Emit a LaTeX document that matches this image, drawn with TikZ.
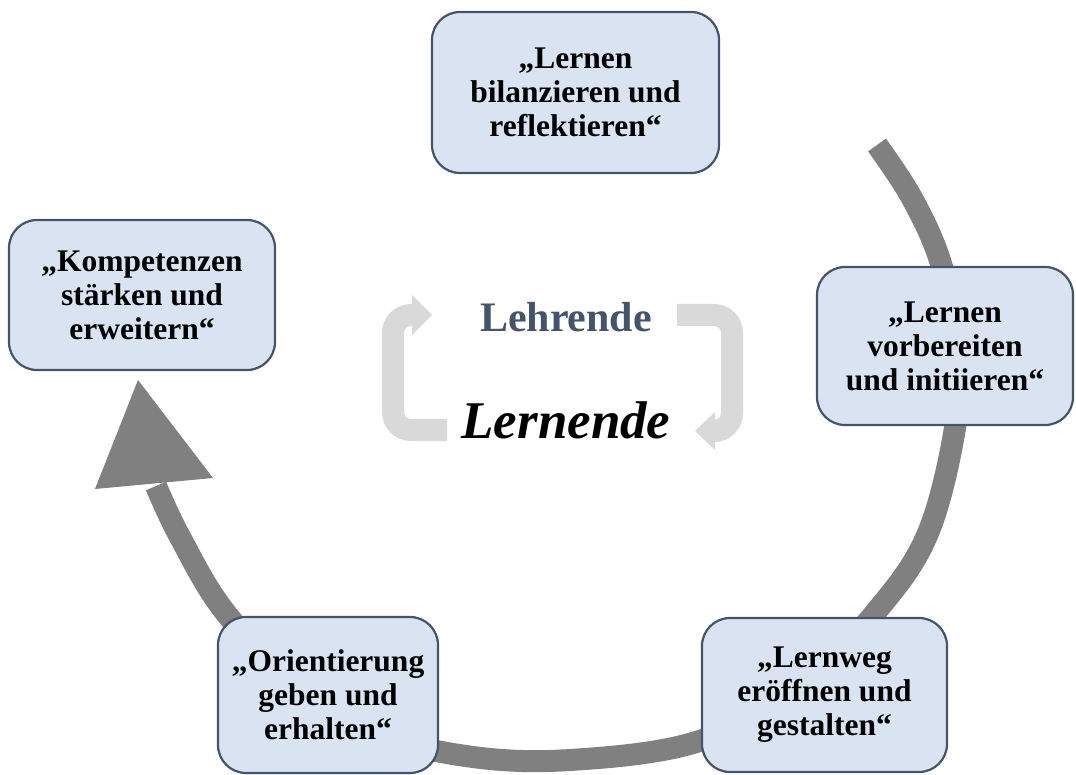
\documentclass[tikz,border=0pt]{standalone}
\usepackage{fontspec}
\setmainfont{Liberation Serif}
\definecolor{boxfill}{RGB}{218,227,242}
\definecolor{boxline}{RGB}{68,84,106}
\definecolor{cyclegray}{RGB}{128,128,128}
\definecolor{softgray}{RGB}{217,217,217}
\begin{document}
\begin{tikzpicture}[x=1pt,y=-1pt,
  phase/.style={draw=boxline, line width=2.2pt, fill=boxfill,
    rounded corners=28pt, align=center, inner sep=0pt,
    font=\bfseries\fontsize{31.5}{34}\selectfont},
  bigcycle/.style={cyclegray, line width=22pt},
  smallcycle/.style={softgray, line width=22pt, rounded corners=18pt}]
\useasboundingbox (0,0) rectangle (1076,775);

% large clockwise cycle arrow behind the phase boxes
\coordinate (arcstart) at (877,145);
\coordinate (arcend) at (156,486);
\draw[bigcycle] plot[smooth, tension=0.6] coordinates {
  (arcstart) (913,200) (942,267) (962,365) (933,520) (875,613)
  (790,695) (693,743) (570,760) (473,757) (380,735) (300,690)
  (225,612) (180,537) (arcend)};
\coordinate (headtip) at (138,380);
\fill[cyclegray] (95,489) -- (headtip) -- (213,478) -- cycle;

% small cycle between teachers and learners
\draw[smallcycle] (447,430) -- (393,430) -- (393,315) -- (418,315);
\fill[softgray] (412,295) -- (432,315) -- (412,335) -- cycle;
\draw[smallcycle] (677,315) -- (732,315) -- (732,431) -- (709,431);
\fill[softgray] (715,412) -- (695,431) -- (715,450) -- cycle;

\node[anchor=base, text=boxline, font=\bfseries\fontsize{42}{42}\selectfont]
  (lehrende) at (566,332) {Lehrende};
\node[anchor=base, font=\bfseries\itshape\fontsize{53}{53}\selectfont]
  (lernende) at (566,438) {Lernende};

% phases
\node[phase, minimum width=287pt, minimum height=161pt] (bilanz) at (575.5,92.5)
  {„Lernen\\bilanzieren und\\reflektieren“};
\node[phase, minimum width=256pt, minimum height=158pt] (vorb) at (945,346)
  {„Lernen\\vorbereiten\\und initiieren“};
\node[phase, minimum width=245pt, minimum height=154pt] (lernweg) at (824.5,695)
  {„Lernweg\\eröffnen und\\gestalten“};
\node[phase, minimum width=220pt, minimum height=156pt] (orient) at (328,695)
  {„Orientierung\\geben und\\erhalten“};
\node[phase, minimum width=266pt, minimum height=150pt] (kompetenz) at (142,295)
  {„Kompetenzen\\stärken und\\erweitern“};
\end{tikzpicture}
\end{document}
